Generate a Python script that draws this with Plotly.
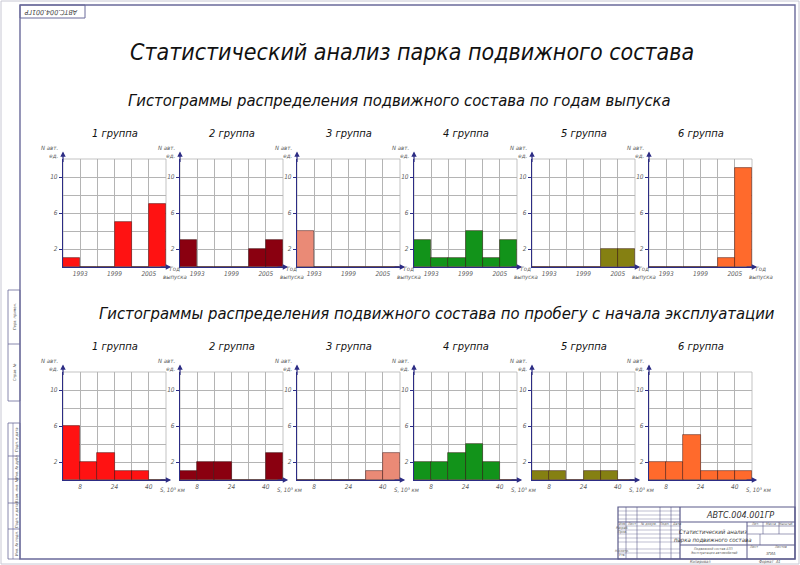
import plotly.graph_objects as go

W, H = 800, 565

FONT = "Liberation Sans Narrow, DejaVu Sans Condensed, Liberation Sans, sans-serif"

# ---- data --------------------------------------------------------------
group_names = ["1 группа", "2 группа", "3 группа", "4 группа", "5 группа", "6 группа"]
group_colors = ["#ff1212", "#8a0010", "#ea8a76", "#12931a", "#858012", "#ff6a2c"]

# year of manufacture: 3-year bins, 1990..2008
year_bins = [1991.5, 1994.5, 1997.5, 2000.5, 2003.5, 2006.5]
year_ticks = [1993, 1999, 2005]
year_g1 = [1, 0, 0, 5, 0, 7]
year_g2 = [3, 0, 0, 0, 2, 3]
year_g3 = [4, 0, 0, 0, 0, 0]
year_g4 = [3, 1, 1, 4, 1, 3]
year_g5 = [0, 0, 0, 0, 2, 2]
year_g6 = [0, 0, 0, 0, 1, 11]

# mileage since start of operation, 10^3 km: 8-unit bins, 0..48
km_bins = [4, 12, 20, 28, 36, 44]
km_ticks = [8, 24, 40]
km_g1 = [6, 2, 3, 1, 1, 0]
km_g2 = [1, 2, 2, 0, 0, 3]
km_g3 = [0, 0, 0, 0, 1, 3]
km_g4 = [2, 2, 3, 4, 2, 0]
km_g5 = [1, 1, 0, 1, 1, 0]
km_g6 = [2, 2, 5, 1, 1, 1]

count_ticks = [2, 6, 10]

year_rows = [year_g1, year_g2, year_g3, year_g4, year_g5, year_g6]
km_rows = [km_g1, km_g2, km_g3, km_g4, km_g5, km_g6]

# ---- layout in pixels ---------------------------------------------------
col_left = [63, 180, 297, 414, 532, 649]
plot_w = 103
row_top = [159, 372]
plot_h = 108

AXIS = "#2c2c84"
GRID = "#b4b4b4"
TXT = "#5a5a5a"


def px(x):
    return x / W


def py(y):
    return 1 - y / H


def it(s):
    return f"<i>{s}</i>"


fig = go.Figure()
annotations = []
shapes = []

for r in range(2):
    for c in range(6):
        i = r * 6 + c + 1
        xa = "x" if i == 1 else f"x{i}"
        ya = "y" if i == 1 else f"y{i}"
        if r == 0:
            xs, ys, rng, ticks, t0, dt = year_bins, year_rows[c], [1990, 2008], year_ticks, 1990, 3
            width = 3
        else:
            xs, ys, rng, ticks, t0, dt = km_bins, km_rows[c], [0, 48], km_ticks, 0, 8
            width = 8

        fig.add_trace(go.Bar(
            x=xs, y=ys, width=width, xaxis=xa, yaxis=ya,
            marker=dict(color=group_colors[c], line=dict(color="rgba(40,0,0,0.55)", width=0.8)),
            showlegend=False, hoverinfo="x+y",
        ))

        x0, x1 = col_left[c], col_left[c] + plot_w
        y0, y1 = row_top[r], row_top[r] + plot_h
        tick_font = dict(family=FONT, size=6.5, color=TXT)
        fig.layout[f"xaxis{i}"] = dict(
            domain=[px(x0), px(x1)], range=rng, anchor=ya,
            tickvals=ticks, ticktext=[it(t) for t in ticks], ticks="", tickfont=tick_font,
            showgrid=True, gridcolor=GRID, gridwidth=0.8,
            minor=dict(tick0=t0, dtick=dt, showgrid=True, gridcolor=GRID, gridwidth=0.8),
            showline=True, linecolor=AXIS, linewidth=1.2,
            zeroline=False, fixedrange=True,
        )
        fig.layout[f"yaxis{i}"] = dict(
            domain=[py(y1), py(y0)], range=[0, 12], anchor=xa,
            tickvals=count_ticks, ticktext=[it(t) for t in count_ticks],
            ticks="outside", ticklen=3, tickcolor=AXIS,
            tickfont=tick_font,
            showgrid=True, gridcolor=GRID, gridwidth=0.8,
            minor=dict(dtick=2, showgrid=True, gridcolor=GRID, gridwidth=0.8),
            showline=True, linecolor=AXIS, linewidth=1.2,
            zeroline=False, fixedrange=True,
        )
        # grid frame (top / right edges)
        shapes.append(dict(type="rect", xref=f"{xa} domain", yref=f"{ya} domain",
                           x0=0, x1=1, y0=0, y1=1, layer="below",
                           line=dict(color=GRID, width=0.8)))
        # axis arrows
        annotations.append(dict(xref=f"{xa} domain", yref=f"{ya} domain", x=0, y=1.07,
                                ax=0, ay=12, showarrow=True, arrowhead=2, arrowsize=0.9,
                                arrowwidth=1.2, arrowcolor=AXIS, text=""))
        annotations.append(dict(xref=f"{xa} domain", yref=f"{ya} domain", x=1.05, y=0,
                                ax=-12, ay=0, showarrow=True, arrowhead=2, arrowsize=0.9,
                                arrowwidth=1.2, arrowcolor=AXIS, text=""))
        # axis captions
        annotations.append(dict(xref=f"{xa} domain", yref=f"{ya} domain", x=0, y=1.07,
                                xanchor="right", yanchor="middle", xshift=-3,
                                text=it("N авт.<br>ед."), showarrow=False, align="right",
                                font=dict(family=FONT, size=6, color=TXT)))
        if r == 0:
            annotations.append(dict(xref=f"{xa} domain", yref=f"{ya} domain", x=1, y=0,
                                    xanchor="center", yanchor="top", xshift=9, yshift=4,
                                    text=it("Год<br>выпуска"), showarrow=False, align="center",
                                    font=dict(family=FONT, size=6, color=TXT)))
        else:
            annotations.append(dict(xref=f"{xa} domain", yref=f"{ya} domain", x=1, y=0,
                                    xanchor="center", yanchor="top", xshift=6, yshift=-4,
                                    text=it("S, 10³ км"), showarrow=False,
                                    font=dict(family=FONT, size=6, color=TXT)))
        # group caption
        annotations.append(dict(xref="paper", yref="paper", x=px((x0 + x1) / 2),
                                y=py(row_top[r] - 26), xanchor="center", yanchor="middle",
                                text=it(group_names[c]), showarrow=False,
                                font=dict(family=FONT, size=11, color="#111")))


# ---- headings -----------------------------------------------------------
def heading(text, x, y, size):
    annotations.append(dict(xref="paper", yref="paper", x=px(x), y=py(y),
                            xanchor="center", yanchor="middle", text=it(text), showarrow=False,
                            font=dict(family=FONT, size=size, color="#111")))


heading("Статистический анализ парка подвижного состава", 412, 52, 23)
heading("Гистограммы распределения подвижного состава по годам выпуска", 399, 100, 16.5)
heading("Гистограммы распределения подвижного состава по пробегу с начала эксплуатации", 437, 313, 16.5)


# ---- drawing sheet frame ------------------------------------------------
def line(x0, y0, x1, y1, color="#6a6a9a", width=1.0):
    shapes.append(dict(type="line", xref="paper", yref="paper",
                       x0=px(x0), y0=py(y0), x1=px(x1), y1=py(y1),
                       line=dict(color=color, width=width)))


def rect(x0, y0, x1, y1, color="#6a6a9a", width=1.0):
    shapes.append(dict(type="rect", xref="paper", yref="paper",
                       x0=px(x0), y0=py(y0), x1=px(x1), y1=py(y1),
                       line=dict(color=color, width=width)))


def small(text, x, y, size=5, angle=0, anchor="center", color="#555"):
    annotations.append(dict(xref="paper", yref="paper", x=px(x), y=py(y),
                            xanchor=anchor, yanchor="middle", text=it(text), showarrow=False,
                            textangle=angle,
                            font=dict(family=FONT, size=size, color=color)))


rect(1, 1, 799, 564, color="#c8c8d4", width=1.0)
rect(20, 5, 795, 559, color="#6a6a9a", width=1.4)

# stamp top-left (upside down)
rect(20, 5, 85, 18)
small("АВТС.004.001ГР", 52, 11.5, size=7, angle=180, color="#444")

# left margin strip
rect(8, 290, 20, 401, width=0.8)
line(8, 344, 20, 344, width=0.8)
rect(8, 423, 20, 559, width=0.8)
for yy in [456, 479, 503, 529]:
    line(8, yy, 20, yy, width=0.8)
line(13, 423, 13, 559, width=0.6)
small("Перв. примен.", 14, 317, size=4, angle=-90)
small("Справ. №", 14, 372, size=4, angle=-90)
small("Подп. и дата", 16, 440, size=4, angle=-90)
small("Инв. № дубл.", 16, 467, size=4, angle=-90)
small("Взам. инв. №", 16, 491, size=4, angle=-90)
small("Подп. и дата", 16, 516, size=4, angle=-90)
small("Инв. № подл.", 16, 544, size=4, angle=-90)

# title block
TB = "#5a5a8a"
rect(618, 507, 795, 559, color=TB, width=1.2)
line(680, 507, 680, 559, color=TB, width=1.2)
line(618, 522, 795, 522, color=TB, width=1.2)
line(680, 545, 795, 545, color=TB, width=1.0)
line(747, 522, 747, 559, color=TB, width=1.0)
for xx in [626, 637, 660, 671]:
    line(xx, 507, xx, 559, color=TB, width=0.6)
for yy in [511, 515, 519, 526, 530, 534, 538, 542, 549, 553]:
    line(618, yy, 680, yy, color=TB, width=0.4)
for yy in [526, 534]:
    line(747, yy, 795, yy, color=TB, width=0.6)
for xx in [763, 779]:
    line(xx, 522, xx, 534, color=TB, width=0.6)
line(760, 534, 760, 545, color=TB, width=0.6)

small("АВТС.004.001ГР", 740, 515, size=9, color="#333")
small("Статистический анализ", 713, 531, size=6, color="#333")
small("парка подвижного состава", 713, 540, size=6, color="#333")
small("Лит.", 755, 524, size=3.5)
small("Масса", 771, 524, size=3.5)
small("Масштаб", 786, 524, size=3.2)
small("Лист", 753, 547, size=3.5)
small("Листов", 780, 547, size=3.5)
small("Подвижной состав АТП", 713, 549, size=3.5)
small("Эксплуатация автомобилей", 713, 553, size=3.5)
small("ЗГИА", 771, 553, size=4)
small("Изм.", 622, 524, size=3.5)
small("Лист", 631, 524, size=3.5)
small("№ докум.", 648, 524, size=3.5)
small("Подп.", 665, 524, size=3.5)
small("Дата", 676, 524, size=3.5)
small("Разраб.", 622, 528, size=3.5)
small("Пров.", 622, 532, size=3.5)
small("Н.контр.", 622, 551, size=3.5)
small("Утв.", 622, 555, size=3.5)
small("Копировал", 700, 561.5, size=4)
small("Формат  А1", 770, 561.5, size=4)

fig.update_layout(
    width=W, height=H,
    margin=dict(l=0, r=0, t=0, b=0),
    paper_bgcolor="white", plot_bgcolor="white",
    bargap=0, showlegend=False,
    font=dict(family=FONT),
    annotations=annotations, shapes=shapes,
)

fig.write_html("out.html", config={"displayModeBar": False},
               post_script="document.body.style.margin='0';")
